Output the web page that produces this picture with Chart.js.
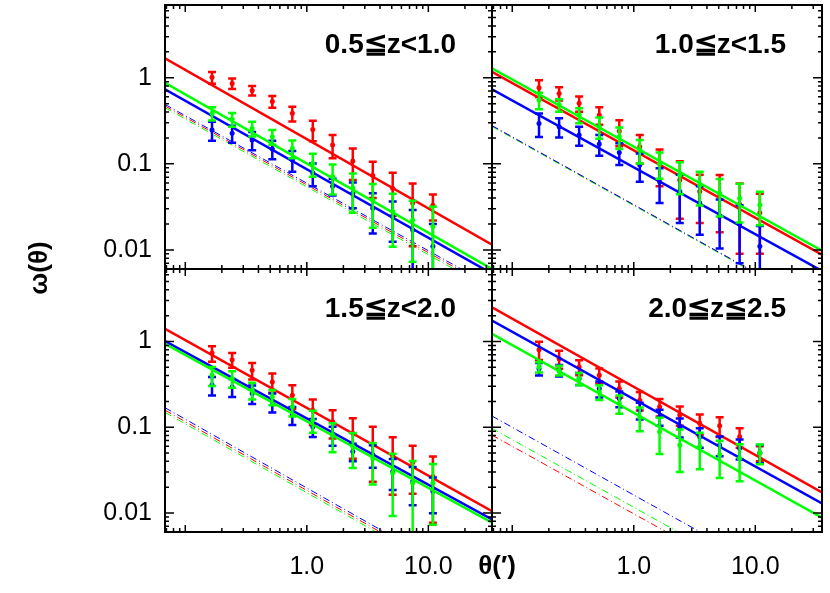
<!DOCTYPE html>
<html>
<head>
<meta charset="utf-8">
<script src="https://cdn.jsdelivr.net/npm/chart.js@4.4.1/dist/chart.umd.min.js"></script>
<style>
html, body { margin: 0; padding: 0; background: #fff; }
#wrap { position: relative; width: 830px; height: 593px; }
#wrap canvas { position: absolute; left: 0; top: 0; }
</style>
</head>
<body>
<div id="wrap">
<canvas id="c1" width="830" height="593"></canvas>
<canvas id="c2" width="830" height="593"></canvas>
<canvas id="c3" width="830" height="593"></canvas>
<canvas id="c4" width="830" height="593"></canvas>
</div>
<script>
// angular separations (arcmin), shared by all panels
const theta = [0.166, 0.243, 0.355, 0.52, 0.76, 1.12, 1.63, 2.39, 3.49, 5.09, 7.43, 10.9];

// 0.5<=z<1.0
const r1 = [1.01, 0.86, 0.71, 0.53, 0.386, 0.25, 0.166, 0.108, 0.073, 0.052, 0.035, 0.033];
const r1e = [0.16, 0.12, 0.09, 0.083, 0.075, 0.067, 0.05, 0.043, 0.033, 0.027, 0.024, 0.011];
const b1 = [0.247, 0.226, 0.189, 0.149, 0.111, 0.078, 0.055, 0.0455, 0.0305, 0.0244, 0.0171, 0.011];
const b1e = [0.062, 0.05, 0.045, 0.036, 0.03, 0.023, 0.012, 0.015, 0.015, 0.012, 0.012, 0.009];
const g1 = [0.386, 0.329, 0.258, 0.207, 0.151, 0.101, 0.0711, 0.052, 0.0381, 0.0279, 0.0223, 0.0187];
const g1e = [0.067, 0.06, 0.05, 0.04, 0.035, 0.03, 0.027, 0.025, 0.02, 0.017, 0.015, 0.013];

// 1.0<=z<1.5
const r2 = [0.766, 0.658, 0.504, 0.369, 0.24, 0.158, 0.101, 0.065, 0.0476, 0.045, 0.034, 0.027];
const r2e = [0.17, 0.115, 0.1, 0.085, 0.08, 0.058, 0.046, 0.042, 0.027, 0.029, 0.025, 0.018];
const b2 = [0.295, 0.27, 0.216, 0.17, 0.135, 0.097, 0.0621, 0.0476, 0.035, 0.0244, 0.02, 0.011];
const b2e = [0.09, 0.068, 0.054, 0.046, 0.038, 0.035, 0.027, 0.027, 0.02, 0.014, 0.013, 0.008];
const g2 = [0.551, 0.482, 0.369, 0.27, 0.207, 0.145, 0.101, 0.0743, 0.0569, 0.0455, 0.0398, 0.0333];
const g2e = [0.12, 0.08, 0.072, 0.075, 0.058, 0.044, 0.034, 0.03, 0.024, 0.021, 0.019, 0.014];

// 1.5<=z<2.0
const r3 = [0.732, 0.613, 0.461, 0.3375, 0.236, 0.158, 0.116, 0.0849, 0.0622, 0.0463, 0.0388, 0.0267];
const r3e = [0.15, 0.12, 0.1, 0.085, 0.073, 0.052, 0.042, 0.042, 0.039, 0.03, 0.022, 0.019];
const b3 = [0.31, 0.295, 0.247, 0.198, 0.139, 0.101, 0.081, 0.052, 0.0476, 0.0305, 0.0233, 0.0179];
const b3e = [0.075, 0.07, 0.06, 0.05, 0.033, 0.024, 0.02, 0.012, 0.014, 0.012, 0.011, 0.008];
const g3 = [0.403, 0.369, 0.27, 0.226, 0.173, 0.121, 0.081, 0.0594, 0.0435, 0.0292, 0.0223, 0.0223];
const g3e = [0.1, 0.08, 0.06, 0.045, 0.04, 0.035, 0.03, 0.026, 0.022, 0.02, 0.018, 0.015];

// 2.0<=z<=2.5
const r4 = [0.80, 0.63, 0.504, 0.403, 0.282, 0.207, 0.173, 0.139, 0.111, 0.104, 0.0775, 0.05];
const r4e = [0.19, 0.15, 0.1, 0.08, 0.06, 0.05, 0.04, 0.035, 0.03, 0.027, 0.02, 0.01];
const b4 = [0.482, 0.46, 0.37, 0.282, 0.216, 0.158, 0.132, 0.101, 0.0775, 0.062, 0.0569, 0.05];
const b4e = [0.08, 0.07, 0.06, 0.06, 0.045, 0.035, 0.028, 0.025, 0.02, 0.016, 0.015, 0.012];
const g4 = [0.504, 0.46, 0.369, 0.258, 0.189, 0.13, 0.0887, 0.0621, 0.0594, 0.0476, 0.0435, 0.05];
const g4e = [0.07, 0.06, 0.06, 0.05, 0.045, 0.04, 0.04, 0.032, 0.027, 0.022, 0.02, 0.013];

// power-law fits, value at left and right edge of each panel
const fitRed = [[1.68, 0.0115], [1.17, 0.0088], [1.40, 0.0105], [2.50, 0.0174]];
const fitBlue = [[0.733, 0.0053], [0.733, 0.0057], [1.01, 0.0084], [1.75, 0.0129]];
const fitGreen = [[0.875, 0.006], [1.285, 0.0098], [0.939, 0.0077], [1.23, 0.0088]];
// thin dash-dot lines
const dashRed = [[0.47, 0.0036], [0.275, 0.002], [0.158, 0.0011], [0.081, 0.00059]];
const dashBlue = [[0.49, 0.0038], [0.278, 0.00202], [0.169, 0.00117], [0.135, 0.00097]];
const dashGreen = [[0.449, 0.0034], [0.272, 0.00198], [0.149, 0.00103], [0.097, 0.0007]];

// axis ticks
const yTickVals = [1, 0.1, 0.01];
const yTickText = ['1', '0.1', '0.01'];
const xTickVals = [1, 10];
const xTickText = ['1.0', '10.0'];
const decades = [0.001, 0.01, 0.1, 1, 10];

const titles = ['0.5≦z<1.0', '1.0≦z<1.5', '1.5≦z<2.0', '2.0≦z≦2.5'];
const pts = [[r1, r1e, b1, b1e, g1, g1e], [r2, r2e, b2, b2e, g2, g2e], [r3, r3e, b3, b3e, g3, g3e], [r4, r4e, b4, b4e, g4, g4e]];

const RED = '#ff0000', BLUE = '#0000ff', GREEN = '#00ff00';
const X_MIN = 0.0681, Y_MIN = 0.006, Y_MAX = 7;

const panels = [
  { id: 'c1', box: [165, 5, 492, 269], xMax: 33.4, yLab: true, xLab: false },
  { id: 'c2', box: [492, 5, 822, 269], xMax: 35.4, yLab: false, xLab: false },
  { id: 'c3', box: [165, 269, 492, 532], xMax: 33.4, yLab: true, xLab: true, names: true },
  { id: 'c4', box: [492, 269, 822, 532], xMax: 35.4, yLab: false, xLab: true }
];

const frame = {
  id: 'frame',
  afterDatasetDraw(chart, args) {
    const ds = chart.data.datasets[args.index];
    if (!ds.err) return;
    const { ctx, chartArea: a, scales: { x, y } } = chart;
    ctx.save();
    ctx.beginPath();
    ctx.rect(a.left, a.top, a.right - a.left, a.bottom - a.top);
    ctx.clip();
    ctx.strokeStyle = ds.borderColor;
    ctx.lineWidth = 2.5;
    ctx.beginPath();
    ds.data.forEach((p, i) => {
      const px = x.getPixelForValue(p.x);
      const hi = y.getPixelForValue(p.y + ds.err[i]);
      const lo = y.getPixelForValue(Math.max(p.y - ds.err[i], 1e-4));
      ctx.moveTo(px, hi); ctx.lineTo(px, lo);
      ctx.moveTo(px - 4, hi); ctx.lineTo(px + 4, hi);
      ctx.moveTo(px - 4, lo); ctx.lineTo(px + 4, lo);
    });
    ctx.stroke();
    ctx.restore();
  },
  afterDraw(chart, args, opts) {
    const { ctx, chartArea: a, scales: { x, y } } = chart;
    ctx.save();
    ctx.strokeStyle = '#000';
    ctx.lineWidth = 2;
    ctx.strokeRect(a.left, a.top, a.right - a.left, a.bottom - a.top);
    ctx.lineWidth = 1.5;
    ctx.beginPath();
    decades.forEach(d => {
      for (let k = 1; k < 10; k++) {
        const v = d * k;
        if (v >= y.min * 0.999 && v <= y.max) {
          const py = y.getPixelForValue(v), len = k === 1 ? 9 : 4;
          ctx.moveTo(a.left, py); ctx.lineTo(a.left + len, py);
          ctx.moveTo(a.right, py); ctx.lineTo(a.right - len, py);
        }
        if (v >= x.min && v <= x.max) {
          const px = x.getPixelForValue(v), len = k === 1 ? 7 : 4;
          ctx.moveTo(px, a.bottom); ctx.lineTo(px, a.bottom - len);
          ctx.moveTo(px, a.top); ctx.lineTo(px, a.top + len);
        }
      }
    });
    ctx.stroke();

    ctx.fillStyle = '#000';
    ctx.font = '25px "Liberation Sans", Arial, sans-serif';
    ctx.textBaseline = 'middle';
    if (opts.yLab) {
      ctx.textAlign = 'right';
      yTickVals.forEach((v, i) => ctx.fillText(yTickText[i], a.left - 13, y.getPixelForValue(v)));
    }
    if (opts.xLab) {
      ctx.textAlign = 'center';
      xTickVals.forEach((v, i) => ctx.fillText(xTickText[i], x.getPixelForValue(v), a.bottom + 35));
    }

    ctx.font = 'bold 28px "Liberation Sans", Arial, sans-serif';
    ctx.textAlign = 'right';
    ctx.fillText(opts.title, a.right - 36, a.top + 40);

    if (opts.names) {
      ctx.font = 'bold 26px "Liberation Sans", Arial, sans-serif';
      ctx.textAlign = 'center';
      ctx.fillText('θ(′)', 497, 567);
      ctx.translate(40, 268);
      ctx.rotate(-Math.PI / 2);
      ctx.fillText('ω(θ)', 0, 0);
    }
    ctx.restore();
  }
};

function lineData(ends, xMax) {
  return [{ x: X_MIN, y: ends[0] }, { x: xMax, y: ends[1] }];
}

panels.forEach((p, n) => {
  const [rv, re, bv, be, gv, ge] = pts[n];
  const list = [];
  const dash = (ends, c) => list.push({
    data: lineData(ends, p.xMax), borderColor: c, borderWidth: 1,
    borderDash: [7, 3, 1, 3], pointRadius: 0
  });
  dash(dashRed[n], RED);
  dash(dashGreen[n], GREEN);
  dash(dashBlue[n], BLUE);
  const series = (ends, vals, errs, c) => {
    list.push({ data: lineData(ends, p.xMax), borderColor: c, borderWidth: 2.5, pointRadius: 0 });
    list.push({
      data: theta.map((t, i) => ({ x: t, y: vals[i] })), err: errs,
      borderColor: c, backgroundColor: c, showLine: false,
      pointRadius: 2.5, pointBorderWidth: 0
    });
  };
  series(fitRed[n], rv, re, RED);
  series(fitBlue[n], bv, be, BLUE);
  series(fitGreen[n], gv, ge, GREEN);
  // first pushed is drawn first
  list.forEach((d, i) => { d.order = 100 - i; d.clip = 0; });

  const [l, t, r, b] = p.box;
  new Chart(document.getElementById(p.id), {
    type: 'line',
    data: { datasets: list },
    options: {
      responsive: false,
      animation: false,
      devicePixelRatio: 1,
      layout: { padding: { left: l, top: t, right: 830 - r, bottom: 593 - b } },
      scales: {
        x: { type: 'logarithmic', min: X_MIN, max: p.xMax, display: false },
        y: { type: 'logarithmic', min: Y_MIN, max: Y_MAX, display: false }
      },
      plugins: {
        legend: { display: false },
        tooltip: { enabled: false },
        frame: { title: titles[n], yLab: p.yLab, xLab: p.xLab, names: p.names }
      }
    },
    plugins: [frame]
  });
});
</script>
</body>
</html>
